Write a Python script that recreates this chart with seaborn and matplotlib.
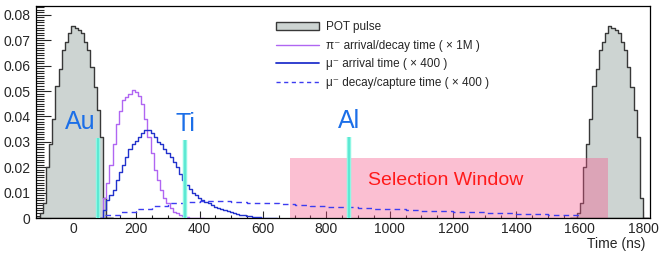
import numpy as np
import pandas as pd
import matplotlib
matplotlib.use('Agg')
import matplotlib.pyplot as plt
import matplotlib.ticker as mticker
from matplotlib.patches import Rectangle, Patch
from matplotlib.lines import Line2D
import seaborn as sns

# POT pulse (10 ns bins, centred on 0), repeated every 1695 ns
pot_t = np.arange(-100, 101, 10)
pot_h = [0.002, 0.006, 0.020, 0.029, 0.039, 0.052, 0.0585, 0.066, 0.0694, 0.0727, 0.0756,
         0.0747, 0.074, 0.0727, 0.0694, 0.0661, 0.0596, 0.0517, 0.0425, 0.032, 0.008]
period = 1695

# pi- arrival/decay time (x 1M)
pi_t = np.arange(100, 391, 10)
pi_h = [0.008, 0.014, 0.021, 0.029, 0.037, 0.042, 0.0465, 0.0475, 0.049, 0.0505,
        0.0497, 0.048, 0.045, 0.039, 0.032, 0.0256, 0.019, 0.015, 0.011, 0.008,
        0.006, 0.004, 0.0025, 0.002, 0.0012, 0.0008, 0.0004, 0.0002, 0.0001, 0.0]

# mu- arrival time (x 400)
mu_t = np.arange(100, 621, 10)
mu_h = [0.003, 0.007, 0.009, 0.011, 0.015, 0.018, 0.021, 0.024, 0.027, 0.029,
        0.0305, 0.032, 0.0335, 0.0345, 0.0348, 0.0335, 0.032, 0.030, 0.029, 0.027,
        0.0256, 0.024, 0.022, 0.020, 0.0175, 0.015, 0.013, 0.0115, 0.010, 0.009,
        0.008, 0.0072, 0.0065, 0.0058, 0.0051, 0.0045, 0.004, 0.0035, 0.003, 0.0026,
        0.0022, 0.0019, 0.0016, 0.0013, 0.0011, 0.0009, 0.0007, 0.0005, 0.0004, 0.0003,
        0.0002, 0.0001, 0.0001]

# mu- decay/capture time (x 400), 50 ns bins
dec_t = np.arange(125, 1576, 50)
dec_h = [0.0013, 0.0022, 0.0035, 0.0048, 0.0058, 0.0063, 0.0066, 0.0066, 0.0064, 0.0061,
         0.0058, 0.0054, 0.0051, 0.0048, 0.0045, 0.0042, 0.0039, 0.0036, 0.0034, 0.0031,
         0.0029, 0.0027, 0.0025, 0.0023, 0.0021, 0.0019, 0.0017, 0.0016, 0.0014, 0.0013]

# muon lifetimes in target materials
targets = ['Au', 'Ti', 'Al']
lifetimes = [79, 354, 871]
line_tops = [0.0315, 0.0307, 0.0319]
label_x = [22, 354, 871]

# selection window
win_start, win_end, win_top = 685, 1688, 0.0236

sns.set_style('ticks')
plt.rcParams['font.family'] = ['Liberation Sans', 'DejaVu Sans']

fig = plt.figure(figsize=(6.64, 2.59), dpi=100)
ax = fig.add_axes([0.054, 0.158, 0.925, 0.819])

gray = '#cdd4d2'
edge = '#383838'
violet = '#b066f2'
blue = '#2232cc'
dash_blue = '#3c3cf0'


def hist(t, h, edges, **kw):
    df = pd.DataFrame({'t': np.asarray(t, dtype=float), 'h': np.asarray(h, dtype=float)})
    sns.histplot(data=df, x='t', weights='h', bins=[float(e) for e in edges],
                 element='step', ax=ax, **kw)


pot_edges = np.arange(-125, 126, 10)
for shift in [0, period]:
    hist(pot_t + shift, pot_h, pot_edges + shift, fill=True, color=gray, edgecolor=edge,
         alpha=1, linewidth=1.0, zorder=1)

hist(pi_t, pi_h, np.arange(85, 416, 10), fill=False, color=violet, linewidth=1.0, zorder=3)
hist(mu_t, mu_h, np.arange(85, 646, 10), fill=False, color=blue, linewidth=1.0, zorder=3)
hist(dec_t, dec_h, np.arange(100, 1601, 50), fill=False, color=dash_blue, linewidth=1.0,
     linestyle=(0, (4, 3)), zorder=3)

ax.add_patch(Rectangle((win_start, 0), win_end - win_start, win_top,
                       facecolor='#f5578b', alpha=0.38, edgecolor='none', zorder=2))
ax.text((win_start + win_end) / 2 - 10, win_top * 0.62, 'Selection Window', color='#ff1a1a',
        fontsize=14, ha='center', va='center', zorder=5)

ax.vlines(lifetimes, 0, line_tops, color='#8ff7e4', linewidth=3.2, zorder=4)
ax.vlines(lifetimes, 0, line_tops, color='#55e6d0', linewidth=1.2, zorder=4)
for name, xt, top in zip(targets, label_x, line_tops):
    ax.text(xt, top + 0.0016, name, color='#1c6fe8', fontsize=18, ha='center', va='bottom', zorder=5)

ax.set_xlim(-117, 1822)
ax.set_ylim(0, 0.0835)
ax.set_ylabel('')
ax.xaxis.set_major_locator(mticker.MultipleLocator(200))
ax.xaxis.set_minor_locator(mticker.MultipleLocator(50))
ax.yaxis.set_major_locator(mticker.MultipleLocator(0.01))
ax.yaxis.set_minor_locator(mticker.MultipleLocator(0.001))
ax.yaxis.set_major_formatter(mticker.FuncFormatter(lambda v, p: '0' if abs(v) < 1e-9 else f'{v:.2f}'))
ax.tick_params(axis='x', which='major', direction='in', length=5, width=0.8, pad=3, labelsize=10)
ax.tick_params(axis='x', which='minor', direction='in', length=2.5, width=0.8)
ax.tick_params(axis='y', which='major', direction='in', length=11, width=0.8, pad=4, labelsize=10)
ax.tick_params(axis='y', which='minor', direction='in', length=5.5, width=0.8)
for sp in ax.spines.values():
    sp.set_color('black')
    sp.set_linewidth(0.9)

ax.set_xlabel('Time (ns)', fontsize=10, loc='right')
ax.xaxis.set_label_coords(0.992, -0.09)

handles = [Patch(facecolor=gray, edgecolor=edge, linewidth=1.0),
           Line2D([], [], color=violet, linewidth=1.0),
           Line2D([], [], color=blue, linewidth=1.3),
           Line2D([], [], color=dash_blue, linewidth=1.0, linestyle=(0, (3, 2.5)))]
labels = ['POT pulse',
          'π⁻ arrival/decay time ( × 1M )',
          'μ⁻ arrival time ( × 400 )',
          'μ⁻ decay/capture time ( × 400 )']
ax.legend(handles, labels, loc='upper left', bbox_to_anchor=(0.391, 0.93), frameon=False,
          fontsize=8.5, handlelength=3.6, handletextpad=0.6, labelspacing=0.58,
          borderpad=0, borderaxespad=0)

fig.savefig('out.png', dpi=100)
